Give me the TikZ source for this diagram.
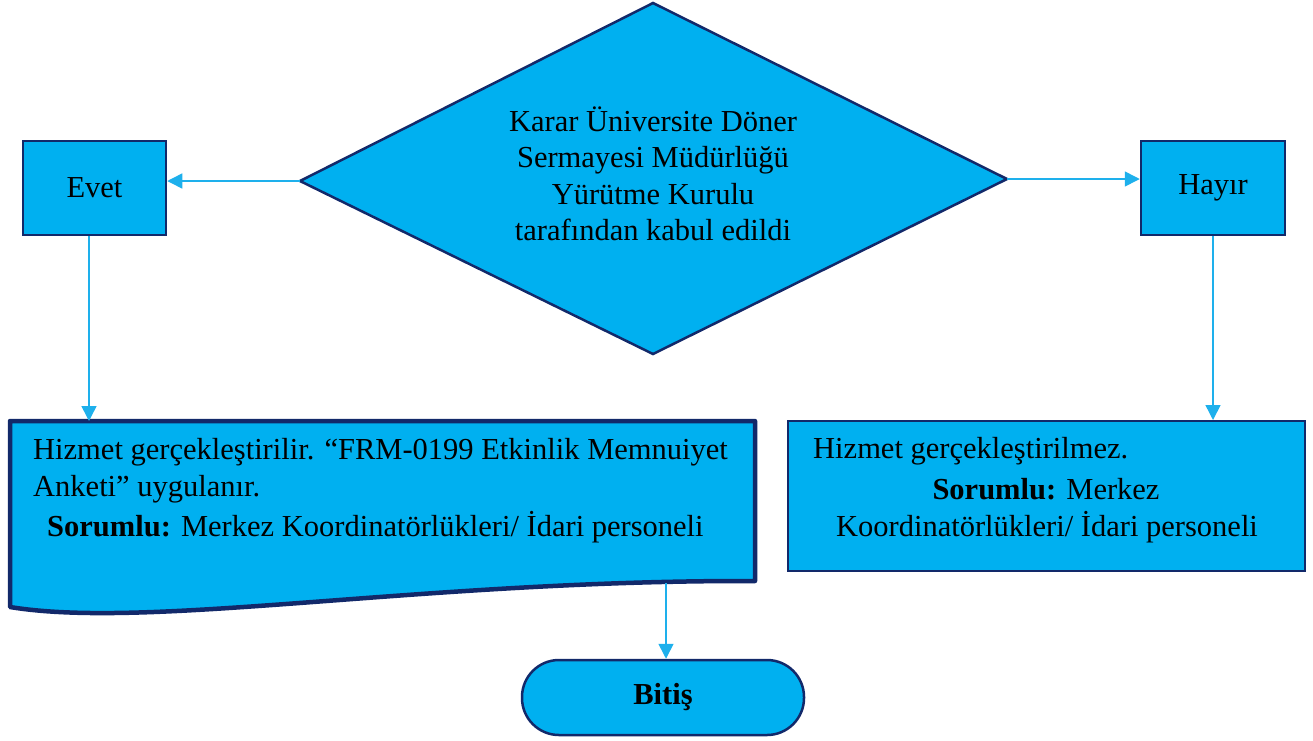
\documentclass[tikz,border=0pt]{standalone}
\usepackage{fontspec}
\setmainfont{Liberation Serif}
\usetikzlibrary{arrows.meta,shapes.geometric}
\definecolor{boxfill}{HTML}{00B0F0}
\definecolor{boxline}{HTML}{12296A}
\definecolor{arrowc}{HTML}{1EB0EC}
\tikzset{
  shapebox/.style={draw=boxline, line width=2.5pt, fill=boxfill, inner sep=0pt},
  conn/.style={draw=arrowc, line width=1.5pt, -{Triangle[length=15pt,width=15pt]}},
  txt/.style={inner sep=0pt, font=\fontsize{30.5}{36.5}\selectfont},
}
\begin{document}
\begin{tikzpicture}[x=1pt,y=-1pt]
\useasboundingbox (0,0) rectangle (1313,740);
% diamond
\coordinate (dt) at (653,3);
\coordinate (dl) at (300,181);
\coordinate (dr) at (1007,179);
\coordinate (db) at (653,354);
\draw[shapebox] (dt) -- (dr) -- (db) -- (dl) -- cycle;
\node[txt, align=center] (dtext) at (653,174) {Karar Üniversite Döner\\Sermayesi Müdürlüğü\\Yürütme Kurulu\\tarafından kabul edildi};
% yes / no boxes
\node[shapebox, txt, minimum width=143pt, minimum height=94pt] (evet) at (94.5,188) {Evet};
\node[shapebox, txt, minimum width=144pt, minimum height=94pt] (hayir) at (1213,188) {Hayır};
% document box
\coordinate (doc1) at (10,421);
\coordinate (doc2) at (755,421);
\coordinate (doc3) at (755,581);
\coordinate (doc4) at (10,607);
\draw[draw=boxline, line width=4.5pt, fill=boxfill, line join=round]
  (doc1) -- (doc2) -- (doc3) .. controls (420,580) and (150,630) .. (doc4) -- cycle;
\node[txt, anchor=west] (doct1) at (33,452) {Hizmet gerçekleştirilir. “FRM-0199 Etkinlik Memnuiyet};
\node[txt, anchor=west] (doct2) at (33,489) {Anketi” uygulanır.};
\node[txt, anchor=west] (doct3) at (47,527) {\textbf{Sorumlu:} Merkez Koordinatörlükleri/ İdari personeli};
\coordinate (docout) at (666,583);
% no result box
\node[draw=boxline, line width=2pt, fill=boxfill, minimum width=517pt, minimum height=150pt, inner sep=0pt] (hbox) at (1046.5,496) {};
\node[txt, anchor=west] (ht1) at (813,451) {Hizmet gerçekleştirilmez.};
\node[txt] (ht2) at (1046,489) {\textbf{Sorumlu:} Merkez};
\node[txt] (ht3) at (1047,527) {Koordinatörlükleri/ İdari personeli};
% end
\node[shapebox, rounded corners=37pt, minimum width=282pt, minimum height=75pt, font=\fontsize{30.5}{36}\selectfont\bfseries] (bitis) at (663,697.5) {Bitiş};
% connectors
\draw[conn] (dl) -- (dl -| evet.east);
\draw[conn] (dr) -- (dr -| hayir.west);
\draw[conn] (evet.south -| 89,0) -- (89,421);
\draw[conn] (hayir.south) -- (hbox.north -| hayir.south);
\draw[conn] (docout) -- (docout |- bitis.north);
\end{tikzpicture}
\end{document}
